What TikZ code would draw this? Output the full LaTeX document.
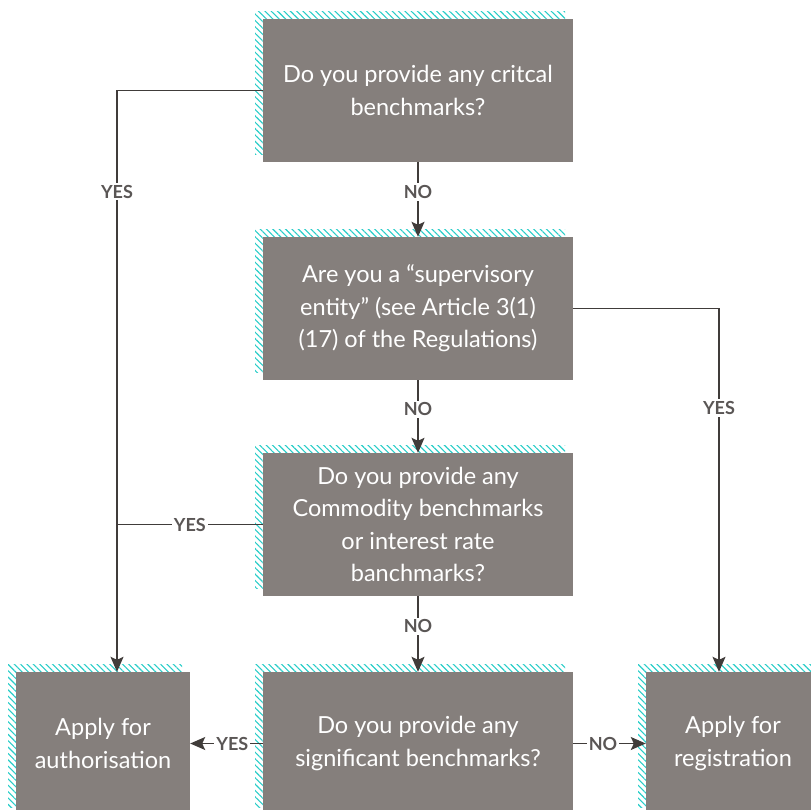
\documentclass[tikz,border=0pt]{standalone}
\usepackage{fontspec}
\setmainfont{Lato}
\usepackage{tikz}
\usetikzlibrary{arrows.meta,patterns.meta}
\definecolor{boxgray}{RGB}{133,127,124}
\definecolor{hatchteal}{RGB}{40,205,200}
\definecolor{linegray}{RGB}{64,60,58}
\definecolor{labelgray}{RGB}{90,86,85}

\begin{document}
\begin{tikzpicture}[>=Stealth, x=1pt, y=-1pt,
  question/.style={fill=boxgray, text=white, minimum width=310pt, minimum height=143pt,
    inner sep=0pt, align=center, font=\fontsize{23.5}{32.5}\selectfont,
    preaction={pattern={Lines[angle=-45,distance=4.5pt,line width=1.1pt]},
      pattern color=hatchteal, transform canvas={shift={(-8pt,8pt)}}}},
  outcome/.style={question, minimum width=174pt},
  answer/.style={fill=white, text=labelgray, inner sep=2pt,
    font=\fontsize{18}{20}\selectfont\bfseries},
  link/.style={draw=linegray, line width=1.3pt},
  arrowlink/.style={link, -{Stealth[length=15pt,width=13pt,inset=3pt]}}]
  \clip (0,0) rectangle (811,809);
  % questions
  \node[question] (critical) at (418,90.5) {Do you provide any critcal\\benchmarks?};
  \node[question] (supervisory) at (418,308.5) {Are you a “supervisory\\entity” (see Article 3(1)\\(17) of the Regulations)};
  \node[question] (commodity) at (418,524.5) {Do you provide any\\Commodity benchmarks\\or interest rate\\banchmarks?};
  \node[question] (significant) at (418,743.5) {Do you provide any\\significant benchmarks?};
  % outcomes
  \node[outcome] (authorise) at (103,743.5) {Apply for\\authorisation};
  \node[outcome] (register) at (733,743.5) {Apply for\\registration};
  % rails
  \coordinate (leftrail) at (117,0);
  \coordinate (rightrail) at (719,0);
  % links
  \draw[arrowlink] (critical.west) -| (leftrail |- authorise.north) node[answer,pos=0.587] {YES};
  \draw[arrowlink] (critical) -- (supervisory) node[answer,pos=0.4] {NO};
  \draw[arrowlink] (supervisory.east) -| (rightrail |- register.north) node[answer,pos=0.637] {YES};
  \draw[arrowlink] (supervisory) -- (commodity) node[answer,pos=0.4] {NO};
  \draw[link] (commodity.west) -- (leftrail |- commodity.west) node[answer,pos=0.5] {YES};
  \draw[arrowlink] (commodity) -- (significant) node[answer,pos=0.4] {NO};
  \draw[arrowlink] (significant) -- (authorise) node[answer,pos=0.42] {YES};
  \draw[arrowlink] (significant) -- (register) node[answer,pos=0.41] {NO};
\end{tikzpicture}
\end{document}
